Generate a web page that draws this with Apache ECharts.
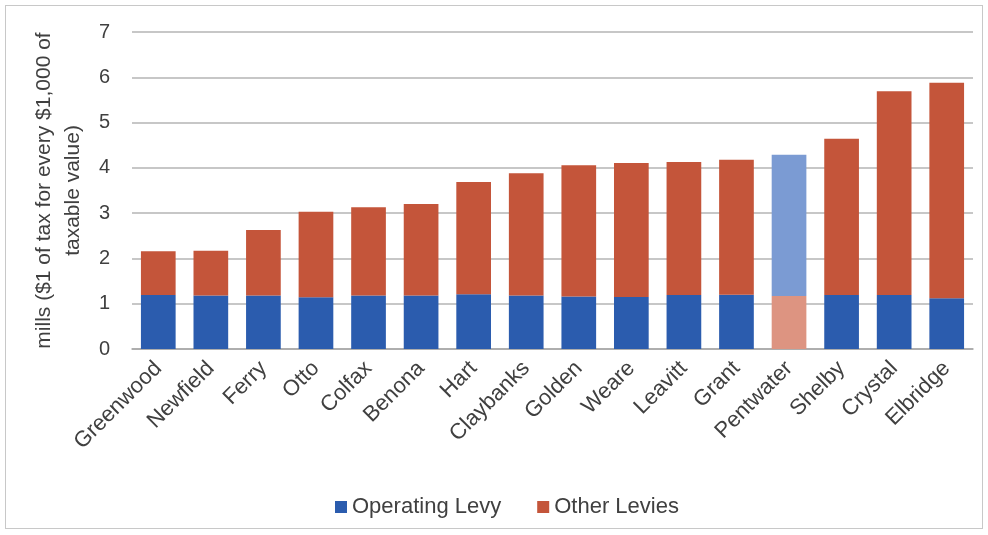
<!DOCTYPE html>
<html>
<head>
<meta charset="utf-8">
<script src="https://cdn.jsdelivr.net/npm/echarts@6/dist/echarts.min.js"></script>
<style>
  html, body { margin: 0; padding: 0; background: #ffffff; }
  #wrap { position: relative; width: 988px; height: 535px; }
  #frame { position: absolute; left: 5px; top: 5px; width: 978px; height: 524px; border: 1px solid #c8c8c8; box-sizing: border-box; }
  #chart { position: absolute; left: 0; top: 0; width: 988px; height: 535px; }
</style>
</head>
<body>
<div id="wrap">
  <div id="frame"></div>
  <div id="chart"></div>
</div>
<script>
// Township millage rates, split into the operating levy and all other levies
const townships = ['Greenwood', 'Newfield', 'Ferry', 'Otto', 'Colfax', 'Benona', 'Hart', 'Claybanks',
  'Golden', 'Weare', 'Leavitt', 'Grant', 'Pentwater', 'Shelby', 'Crystal', 'Elbridge'];
const totalMills = [2.16, 2.17, 2.63, 3.03, 3.13, 3.2, 3.69, 3.88, 4.06, 4.11, 4.13, 4.18, 4.29, 4.64, 5.69, 5.88];
const operatingLevy = [1.19, 1.18, 1.18, 1.14, 1.18, 1.18, 1.21, 1.18, 1.16, 1.15, 1.19, 1.2, 1.17, 1.19, 1.19, 1.12];
const yTicks = [0, 1, 2, 3, 4, 5, 6, 7];
const highlighted = 'Pentwater';

const otherLevies = totalMills.map((t, i) => +(t - operatingLevy[i]).toFixed(2));

const BLUE = '#2b5cae';
const RED = '#c4553a';
const LIGHT_BLUE = '#7b9bd3';
const LIGHT_RED = '#dd9481';

// Pentwater's bar is drawn in swapped, lighter colours
const opData = operatingLevy.map((v, i) => townships[i] === highlighted
  ? { value: v, itemStyle: { color: LIGHT_RED } } : v);
const otherData = otherLevies.map((v, i) => townships[i] === highlighted
  ? { value: v, itemStyle: { color: LIGHT_BLUE } } : v);

const chart = echarts.init(document.getElementById('chart'), null, { renderer: 'canvas' });
chart.setOption({
  animation: false,
  textStyle: { fontFamily: 'Liberation Sans, Arial, sans-serif' },
  grid: { left: 132, right: 15, top: 32, bottom: 186, outerBoundsMode: 'none' },
  legend: {
    top: 491,
    left: 330,
    itemWidth: 12,
    itemHeight: 12,
    itemGap: 36,
    icon: 'rect',
    textStyle: { fontSize: 22, color: '#404040' },
    data: ['Operating Levy', 'Other Levies']
  },
  xAxis: {
    type: 'category',
    data: townships,
    axisTick: { show: false },
    axisLine: { lineStyle: { color: '#a6a6a6', width: 1.5 } },
    axisLabel: { rotate: 45, fontSize: 22, color: '#404040', margin: 16, interval: 0 }
  },
  yAxis: {
    type: 'value',
    min: yTicks[0],
    max: yTicks[yTicks.length - 1],
    interval: 1,
    name: 'mills ($1 of tax for every $1,000 of\ntaxable value)',
    nameLocation: 'middle',
    nameGap: 44,
    nameMoveOverlap: false,
    nameTextStyle: { fontSize: 21, color: '#404040', lineHeight: 29, padding: [14, 0, 0, 0] },
    axisLine: { show: false },
    axisTick: { show: false },
    axisLabel: { fontSize: 20, color: '#404040', margin: 22 },
    splitLine: { lineStyle: { color: '#b4b4b4', width: 1.5 } }
  },
  series: [
    {
      name: 'Operating Levy',
      type: 'bar',
      stack: 'mills',
      data: opData,
      barCategoryGap: '34%',
      itemStyle: { color: BLUE }
    },
    {
      name: 'Other Levies',
      type: 'bar',
      stack: 'mills',
      data: otherData,
      itemStyle: { color: RED }
    }
  ]
});
</script>
</body>
</html>
